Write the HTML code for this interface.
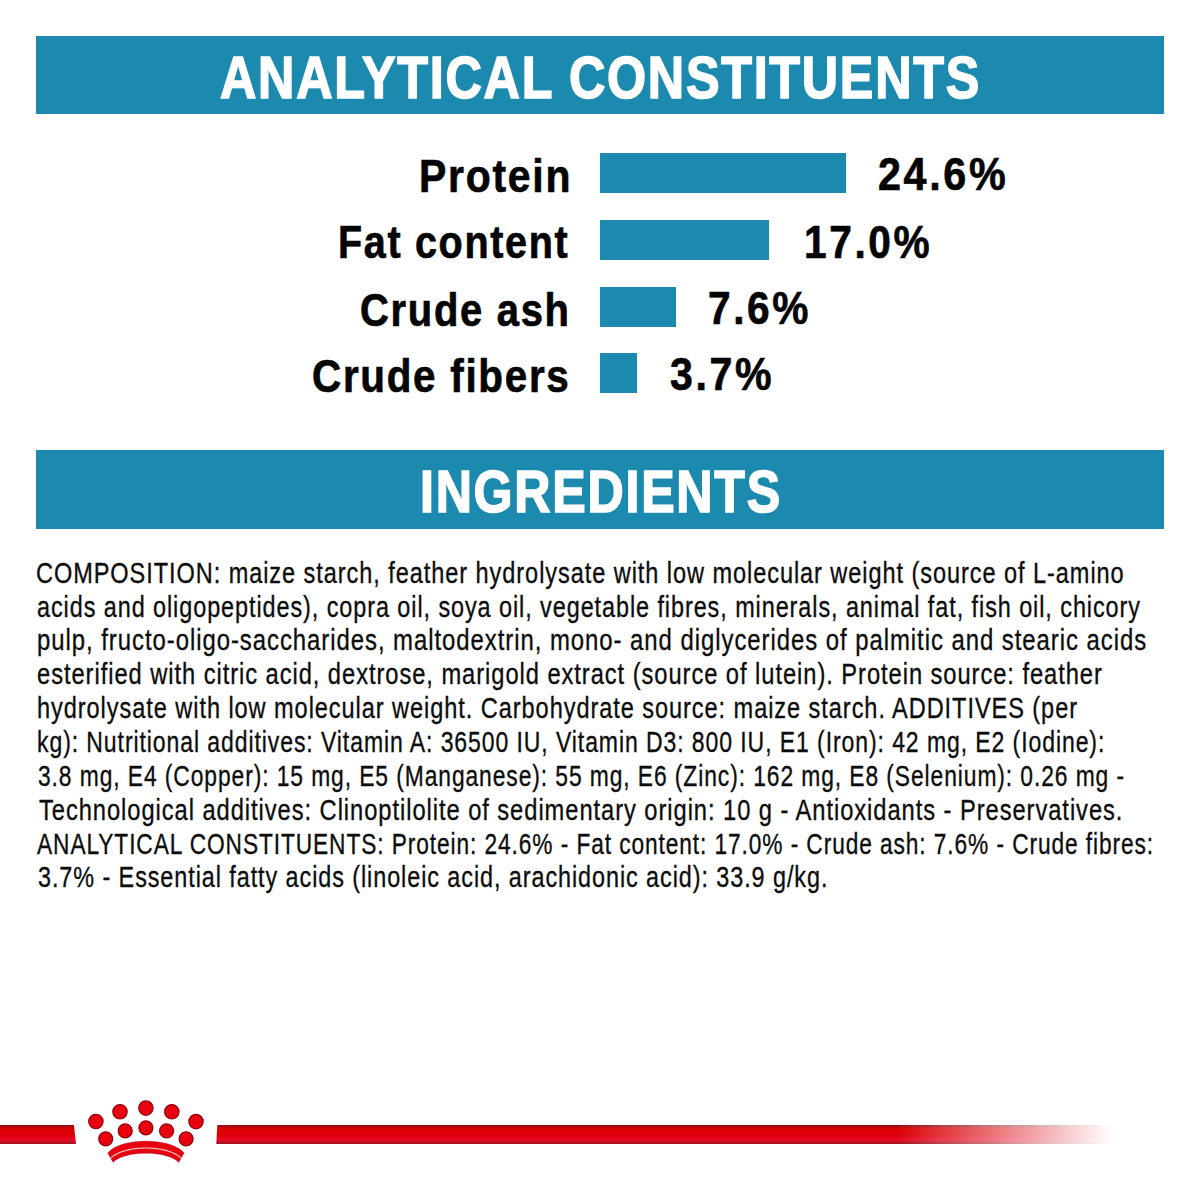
<!DOCTYPE html>
<html><head><meta charset="utf-8">
<style>
html,body{margin:0;padding:0;background:#fff;}
body{width:1200px;height:1200px;position:relative;overflow:hidden;font-family:"Liberation Sans",sans-serif;}
.bar{position:absolute;background:#1c89ae;}
.t{position:absolute;white-space:nowrap;line-height:1;transform-origin:0 0;}
.h{color:#fff;font-weight:bold;}
.l{color:#050505;font-weight:bold;}
.i{color:#0d0d0d;-webkit-text-stroke:0.35px #0d0d0d;}
.h{-webkit-text-stroke:1.6px #fff;} .l{-webkit-text-stroke:0.7px #050505;}</style></head><body>
<div class="bar" style="left:36px;top:36px;width:1128px;height:78px"></div>
<div class="bar" style="left:600px;top:153px;width:246px;height:40px"></div>
<div class="bar" style="left:600px;top:220px;width:169px;height:40px"></div>
<div class="bar" style="left:600px;top:287px;width:76px;height:40px"></div>
<div class="bar" style="left:600px;top:353px;width:37px;height:40px"></div>
<div class="bar" style="left:36px;top:450px;width:1128px;height:79px"></div>
<div class="t h" style="left:220.08px;top:48.50px;font-size:58.5px;letter-spacing:2px;transform:scaleX(0.8603)">ANALYTICAL CONSTITUENTS</div>
<div class="t h" style="left:420.08px;top:463.00px;font-size:58.5px;letter-spacing:2px;transform:scaleX(0.8579)">INGREDIENTS</div>
<div class="t l" style="left:418.60px;top:151.80px;font-size:47px;letter-spacing:2.0px;transform:scaleX(0.8704)">Protein</div>
<div class="t l" style="left:877.75px;top:150.00px;font-size:47px;letter-spacing:3.0px;transform:scaleX(0.8792)">24.6%</div>
<div class="t l" style="left:338.19px;top:217.50px;font-size:47px;letter-spacing:2.0px;transform:scaleX(0.8406)">Fat content</div>
<div class="t l" style="left:804.11px;top:217.80px;font-size:47px;letter-spacing:3.0px;transform:scaleX(0.8646)">17.0%</div>
<div class="t l" style="left:359.63px;top:285.50px;font-size:47px;letter-spacing:2.0px;transform:scaleX(0.8503)">Crude ash</div>
<div class="t l" style="left:708.06px;top:284.00px;font-size:47px;letter-spacing:3.0px;transform:scaleX(0.8647)">7.6%</div>
<div class="t l" style="left:311.89px;top:351.70px;font-size:47px;letter-spacing:2.0px;transform:scaleX(0.8593)">Crude fibers</div>
<div class="t l" style="left:669.81px;top:350.00px;font-size:47px;letter-spacing:3.0px;transform:scaleX(0.8737)">3.7%</div>
<div class="t i" style="left:36.08px;top:557.75px;font-size:30px;letter-spacing:1.2px;transform:scaleX(0.7843)">COMPOSITION: maize starch, feather hydrolysate with low molecular weight (source of L-amino</div>
<div class="t i" style="left:37.08px;top:591.61px;font-size:30px;letter-spacing:1.2px;transform:scaleX(0.7799)">acids and oligopeptides), copra oil, soya oil, vegetable fibres, minerals, animal fat, fish oil, chicory</div>
<div class="t i" style="left:37.12px;top:625.47px;font-size:30px;letter-spacing:1.2px;transform:scaleX(0.7968)">pulp, fructo-oligo-saccharides, maltodextrin, mono- and diglycerides of palmitic and stearic acids</div>
<div class="t i" style="left:37.07px;top:659.33px;font-size:30px;letter-spacing:1.2px;transform:scaleX(0.7899)">esterified with citric acid, dextrose, marigold extract (source of lutein). Protein source: feather</div>
<div class="t i" style="left:37.15px;top:693.19px;font-size:30px;letter-spacing:1.2px;transform:scaleX(0.7850)">hydrolysate with low molecular weight. Carbohydrate source: maize starch. ADDITIVES (per</div>
<div class="t i" style="left:37.20px;top:727.05px;font-size:30px;letter-spacing:1.2px;transform:scaleX(0.7667)">kg): Nutritional additives: Vitamin A: 36500 IU, Vitamin D3: 800 IU, E1 (Iron): 42 mg, E2 (Iodine):</div>
<div class="t i" style="left:37.60px;top:760.91px;font-size:30px;letter-spacing:1.2px;transform:scaleX(0.7610)">3.8 mg, E4 (Copper): 15 mg, E5 (Manganese): 55 mg, E6 (Zinc): 162 mg, E8 (Selenium): 0.26 mg -</div>
<div class="t i" style="left:39.14px;top:794.77px;font-size:30px;letter-spacing:1.2px;transform:scaleX(0.7899)">Technological additives: Clinoptilolite of sedimentary origin: 10 g - Antioxidants - Preservatives.</div>
<div class="t i" style="left:37.27px;top:828.63px;font-size:30px;letter-spacing:1.2px;transform:scaleX(0.7573)">ANALYTICAL CONSTITUENTS: Protein: 24.6% - Fat content: 17.0% - Crude ash: 7.6% - Crude fibres:</div>
<div class="t i" style="left:37.59px;top:862.49px;font-size:30px;letter-spacing:1.2px;transform:scaleX(0.7792)">3.7% - Essential fatty acids (linoleic acid, arachidonic acid): 33.9 g/kg.</div>
<svg width="1200" height="1200" style="position:absolute;left:0;top:0"><defs><linearGradient id="rg" x1="0" y1="0" x2="0" y2="1"><stop offset="0" stop-color="#861016"/><stop offset="0.18" stop-color="#d00808"/><stop offset="0.3" stop-color="#e00000"/><stop offset="0.55" stop-color="#d8000e"/><stop offset="0.75" stop-color="#ec0620"/><stop offset="0.9" stop-color="#c0101e"/><stop offset="1" stop-color="#9a1020"/></linearGradient><linearGradient id="fade" x1="217" y1="0" x2="1112" y2="0" gradientUnits="userSpaceOnUse"><stop offset="0" stop-color="#fff" stop-opacity="0"/><stop offset="0.759" stop-color="#fff" stop-opacity="0"/><stop offset="1" stop-color="#fff" stop-opacity="1"/></linearGradient></defs><polygon points="0,1125 74,1125 76,1144 0,1144" fill="url(#rg)"/><polygon points="217.3,1125 1112,1125 1112,1144 216.3,1144" fill="url(#rg)"/><rect x="217" y="1120" width="900" height="30" fill="url(#fade)"/><circle cx="95.9" cy="1121.5" r="7.20" fill="#e8000f" stroke="#900010" stroke-width="1.2"/><circle cx="120.0" cy="1111.8" r="7.20" fill="#e8000f" stroke="#900010" stroke-width="1.2"/><circle cx="145.9" cy="1108.1" r="7.20" fill="#e8000f" stroke="#900010" stroke-width="1.2"/><circle cx="171.8" cy="1111.8" r="7.20" fill="#e8000f" stroke="#900010" stroke-width="1.2"/><circle cx="196.0" cy="1121.6" r="7.20" fill="#e8000f" stroke="#900010" stroke-width="1.2"/><circle cx="105.7" cy="1138.8" r="7.00" fill="#e8000f" stroke="#900010" stroke-width="1.2"/><circle cx="125.2" cy="1130.9" r="7.00" fill="#e8000f" stroke="#900010" stroke-width="1.2"/><circle cx="145.9" cy="1127.8" r="7.00" fill="#e8000f" stroke="#900010" stroke-width="1.2"/><circle cx="166.6" cy="1130.9" r="7.00" fill="#e8000f" stroke="#900010" stroke-width="1.2"/><circle cx="186.1" cy="1138.8" r="7.00" fill="#e8000f" stroke="#900010" stroke-width="1.2"/><clipPath id="bc"><path d="M107.85 1153.01 L109.14 1151.55 L110.43 1150.39 L111.72 1149.42 L113.01 1148.58 L114.30 1147.83 L115.59 1147.16 L116.88 1146.55 L118.17 1146.00 L119.46 1145.49 L120.75 1145.03 L122.04 1144.61 L123.33 1144.22 L124.62 1143.86 L125.91 1143.53 L127.20 1143.22 L128.49 1142.95 L129.78 1142.69 L131.07 1142.46 L132.36 1142.25 L133.65 1142.07 L134.94 1141.90 L136.23 1141.75 L137.52 1141.63 L138.81 1141.52 L140.10 1141.43 L141.39 1141.36 L142.68 1141.31 L143.97 1141.27 L145.26 1141.25 L146.54 1141.25 L147.83 1141.27 L149.12 1141.31 L150.41 1141.36 L151.70 1141.43 L152.99 1141.52 L154.28 1141.63 L155.57 1141.75 L156.86 1141.90 L158.15 1142.07 L159.44 1142.25 L160.73 1142.46 L162.02 1142.69 L163.31 1142.95 L164.60 1143.22 L165.89 1143.53 L167.18 1143.86 L168.47 1144.22 L169.76 1144.61 L171.05 1145.03 L172.34 1145.49 L173.63 1146.00 L174.92 1146.55 L176.21 1147.16 L177.50 1147.83 L178.79 1148.58 L180.08 1149.42 L181.37 1150.39 L182.66 1151.55 L183.95 1153.01 L178.70 1162.26 L177.36 1161.02 L176.02 1160.02 L174.68 1159.19 L173.34 1158.46 L172.01 1157.83 L170.67 1157.26 L169.33 1156.75 L167.99 1156.29 L166.65 1155.88 L165.31 1155.50 L163.97 1155.16 L162.63 1154.85 L161.30 1154.58 L159.96 1154.33 L158.62 1154.11 L157.28 1153.91 L155.94 1153.74 L154.60 1153.59 L153.26 1153.46 L151.92 1153.36 L150.59 1153.28 L149.25 1153.21 L147.91 1153.17 L146.57 1153.15 L145.23 1153.15 L143.89 1153.17 L142.55 1153.21 L141.21 1153.28 L139.88 1153.36 L138.54 1153.46 L137.20 1153.59 L135.86 1153.74 L134.52 1153.91 L133.18 1154.11 L131.84 1154.33 L130.50 1154.58 L129.17 1154.85 L127.83 1155.16 L126.49 1155.50 L125.15 1155.88 L123.81 1156.29 L122.47 1156.75 L121.13 1157.26 L119.79 1157.83 L118.46 1158.46 L117.12 1159.19 L115.78 1160.02 L114.44 1161.02 L113.10 1162.26 Z"/></clipPath><path d="M107.85 1153.01 L109.14 1151.55 L110.43 1150.39 L111.72 1149.42 L113.01 1148.58 L114.30 1147.83 L115.59 1147.16 L116.88 1146.55 L118.17 1146.00 L119.46 1145.49 L120.75 1145.03 L122.04 1144.61 L123.33 1144.22 L124.62 1143.86 L125.91 1143.53 L127.20 1143.22 L128.49 1142.95 L129.78 1142.69 L131.07 1142.46 L132.36 1142.25 L133.65 1142.07 L134.94 1141.90 L136.23 1141.75 L137.52 1141.63 L138.81 1141.52 L140.10 1141.43 L141.39 1141.36 L142.68 1141.31 L143.97 1141.27 L145.26 1141.25 L146.54 1141.25 L147.83 1141.27 L149.12 1141.31 L150.41 1141.36 L151.70 1141.43 L152.99 1141.52 L154.28 1141.63 L155.57 1141.75 L156.86 1141.90 L158.15 1142.07 L159.44 1142.25 L160.73 1142.46 L162.02 1142.69 L163.31 1142.95 L164.60 1143.22 L165.89 1143.53 L167.18 1143.86 L168.47 1144.22 L169.76 1144.61 L171.05 1145.03 L172.34 1145.49 L173.63 1146.00 L174.92 1146.55 L176.21 1147.16 L177.50 1147.83 L178.79 1148.58 L180.08 1149.42 L181.37 1150.39 L182.66 1151.55 L183.95 1153.01 L178.70 1162.26 L177.36 1161.02 L176.02 1160.02 L174.68 1159.19 L173.34 1158.46 L172.01 1157.83 L170.67 1157.26 L169.33 1156.75 L167.99 1156.29 L166.65 1155.88 L165.31 1155.50 L163.97 1155.16 L162.63 1154.85 L161.30 1154.58 L159.96 1154.33 L158.62 1154.11 L157.28 1153.91 L155.94 1153.74 L154.60 1153.59 L153.26 1153.46 L151.92 1153.36 L150.59 1153.28 L149.25 1153.21 L147.91 1153.17 L146.57 1153.15 L145.23 1153.15 L143.89 1153.17 L142.55 1153.21 L141.21 1153.28 L139.88 1153.36 L138.54 1153.46 L137.20 1153.59 L135.86 1153.74 L134.52 1153.91 L133.18 1154.11 L131.84 1154.33 L130.50 1154.58 L129.17 1154.85 L127.83 1155.16 L126.49 1155.50 L125.15 1155.88 L123.81 1156.29 L122.47 1156.75 L121.13 1157.26 L119.79 1157.83 L118.46 1158.46 L117.12 1159.19 L115.78 1160.02 L114.44 1161.02 L113.10 1162.26 Z" fill="#e8000f" stroke="#a0000f" stroke-width="0.5"/><path d="M100.00 1163.32 L101.56 1163.32 L103.11 1163.32 L104.67 1163.32 L106.22 1163.32 L107.78 1163.32 L109.34 1160.62 L110.89 1158.21 L112.45 1156.67 L114.00 1155.48 L115.56 1154.50 L117.12 1153.66 L118.67 1152.92 L120.23 1152.27 L121.78 1151.69 L123.34 1151.18 L124.89 1150.71 L126.45 1150.30 L128.01 1149.92 L129.56 1149.59 L131.12 1149.30 L132.67 1149.03 L134.23 1148.81 L135.79 1148.61 L137.34 1148.44 L138.90 1148.31 L140.45 1148.20 L142.01 1148.12 L143.57 1148.06 L145.12 1148.04 L146.68 1148.04 L148.23 1148.06 L149.79 1148.12 L151.35 1148.20 L152.90 1148.31 L154.46 1148.44 L156.01 1148.61 L157.57 1148.81 L159.13 1149.03 L160.68 1149.30 L162.24 1149.59 L163.79 1149.92 L165.35 1150.30 L166.91 1150.71 L168.46 1151.18 L170.02 1151.69 L171.57 1152.27 L173.13 1152.92 L174.68 1153.66 L176.24 1154.50 L177.80 1155.48 L179.35 1156.67 L180.91 1158.21 L182.46 1160.62 L184.02 1163.32 L185.58 1163.32 L187.13 1163.32 L188.69 1163.32 L190.24 1163.32 L191.80 1163.32" fill="none" stroke="#f7d0d0" stroke-width="1.1" clip-path="url(#bc)"/></svg>
</body></html>
